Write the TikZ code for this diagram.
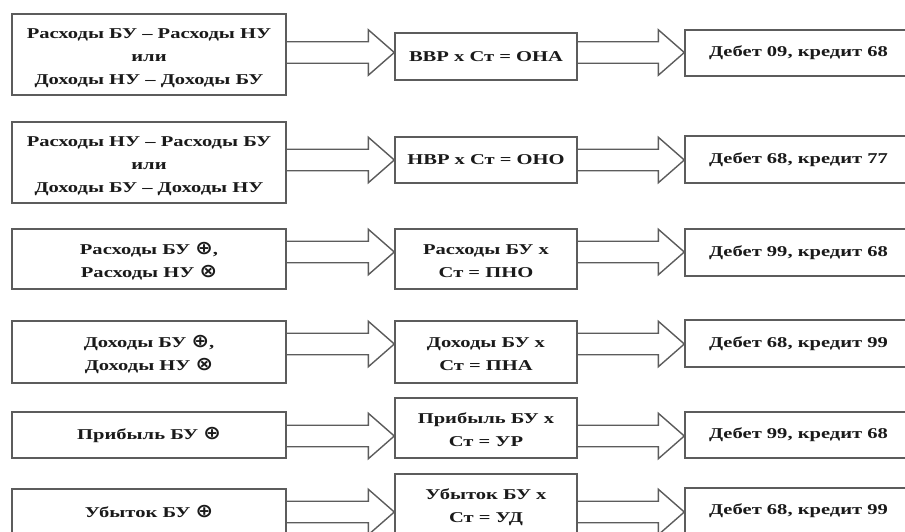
\documentclass[tikz,border=0pt]{standalone}
\usepackage{fontspec}
\setmainfont{Liberation Serif}[FakeStretch=1.37]
\newfontfamily\symf{DejaVu Sans}[FakeStretch=1.1]
\usetikzlibrary{calc}
\definecolor{linec}{HTML}{5C5C5C}
\definecolor{txtc}{HTML}{1A1A1A}
\newcommand\pl{{\symf\bfseries\fontsize{19}{23}\selectfont ⊕}}
\newcommand\tm{{\symf\bfseries\fontsize{19}{23}\selectfont ⊗}}
% multi-line text, set slightly low as in the reference
\newcommand\mlt[1]{\raisebox{-2pt}[\height][\depth]{\begin{tabular}{@{}c@{}}#1\end{tabular}}}
% #1 from node, #2 to node, #3 centre-line coordinate
\newcommand\blockarr[3]{%
  \draw[arr] let \p1=(#1.east), \p2=(#2.west), \p3=(#3) in
    (\x1,\y3+10.75) -- (\x2-26,\y3+10.75) -- (\x2-26,\y3+22.75) -- (\x2,\y3)
    -- (\x2-26,\y3-22.75) -- (\x2-26,\y3-10.75) -- (\x1,\y3-10.75);}
\begin{document}
\begin{tikzpicture}[x=1pt,y=-1pt,
  box/.style={draw=linec, line width=1.4pt, inner sep=0pt, align=center,
    text=txtc, font=\bfseries\fontsize{15}{23}\selectfont},
  lbox/.style={box, minimum width=274pt},
  mbox/.style={box, minimum width=182pt},
  rbox/.style={box, minimum width=227pt},
  arr/.style={draw=linec, line width=1.4pt, line join=miter}]
\useasboundingbox (0,0) rectangle (905,531);
\clip (0,0) rectangle (905,531);
\fill[white] (0,0) rectangle (905,531);
% row 1
\node[lbox, minimum height=81pt] (L1) at (149,54.5) {\mlt{Расходы БУ – Расходы НУ\\или\\Доходы НУ – Доходы БУ}};
\node[mbox, minimum height=47pt] (M1) at (486,56.5) {ВВР х Ст = ОНА};
\node[rbox, minimum height=46pt] (R1) at (798.5,53) {Дебет 09, кредит 68};
\coordinate (A1) at (0,52.5);
% row 2
\node[lbox, minimum height=81pt] (L2) at (149,162.5) {\mlt{Расходы НУ – Расходы БУ\\или\\Доходы БУ – Доходы НУ}};
\node[mbox, minimum height=46pt] (M2) at (486,160) {НВР х Ст = ОНО};
\node[rbox, minimum height=47pt] (R2) at (798.5,159.5) {Дебет 68, кредит 77};
\coordinate (A2) at (0,160);
% row 3
\node[lbox, minimum height=60pt] (L3) at (149,259) {\mlt{Расходы БУ \pl,\\Расходы НУ \tm}};
\node[mbox, minimum height=60pt] (M3) at (486,259) {\mlt{Расходы БУ х\\Ст = ПНО}};
\node[rbox, minimum height=47pt] (R3) at (798.5,252.5) {Дебет 99, кредит 68};
\coordinate (A3) at (0,252);
% row 4
\node[lbox, minimum height=62pt] (L4) at (149,352) {\mlt{Доходы БУ \pl,\\Доходы НУ \tm}};
\node[mbox, minimum height=62pt] (M4) at (486,352) {\mlt{Доходы БУ х\\Ст = ПНА}};
\node[rbox, minimum height=47pt] (R4) at (798.5,343.5) {Дебет 68, кредит 99};
\coordinate (A4) at (0,344);
% row 5
\node[lbox, minimum height=46pt] (L5) at (149,435) {Прибыль БУ \pl};
\node[mbox, minimum height=60pt] (M5) at (486,428) {\mlt{Прибыль БУ х\\Ст = УР}};
\node[rbox, minimum height=46pt] (R5) at (798.5,435) {Дебет 99, кредит 68};
\coordinate (A5) at (0,436);
% row 6
\node[lbox, minimum height=46pt] (L6) at (149,512) {Убыток БУ \pl};
\node[mbox, minimum height=60pt] (M6) at (486,504) {\mlt{Убыток БУ х\\Ст = УД}};
\node[rbox, minimum height=46pt] (R6) at (798.5,511) {Дебет 68, кредит 99};
\coordinate (A6) at (0,512);
% arrows
\foreach \i in {1,...,6} {
  \blockarr{L\i}{M\i}{A\i}
  \blockarr{M\i}{R\i}{A\i}
}
\end{tikzpicture}
\end{document}
